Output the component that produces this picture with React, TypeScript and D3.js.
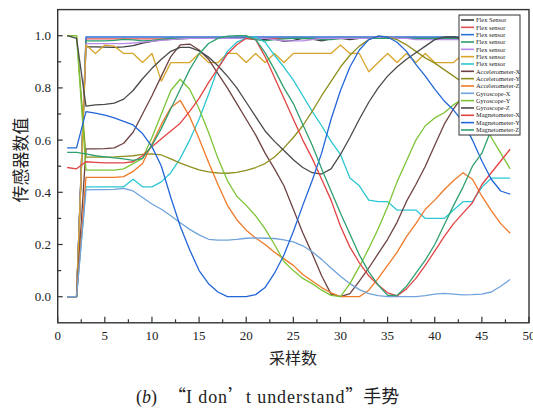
import React from 'react';
import * as d3 from 'd3';

// sample index 1..48
const samples = d3.range(1, 49);

const seriesNames = [
  'Flex Sensor', 'Flex sensor', 'Flex sensor', 'Flex sensor', 'Flex sensor', 'Flex sensor', 'Flex sensor',
  'Accelerometer-X', 'Accelerometer-Y', 'Accelerometer-Z',
  'Gyroscope-X', 'Gyroscope-Y', 'Gyroscope-Z',
  'Magnetometer-X', 'Magnetometer-Y', 'Magnetometer-Z',
];

const seriesColors = [
  '#3c3c3c', '#e05252', '#2a6fd6', '#2e9c6c', '#b98ce8', '#d8a52a', '#2cc7d2',
  '#6e4242', '#8f8f1f', '#f07826',
  '#70a3db', '#7cc436', '#4a4a4a',
  '#e24444', '#2266d8', '#30a070',
];

const flexDark = [0, 0, .957, .957, .956, .955, .957, .962, .972, .978,
  .984, .986, .988, .99, .99, .99, .99, .99, .992, .993,
  .99, .985, .987, .978, .982, .99, .987, .98, .988, .99,
  .985, .99, .99, .99, .995, .99, .99, .99, .99, .99,
  .993, .995, .99, .99, .99, .99, .99, .99];
const flexRed = [0, 0, .988, .988, .988, .988, .988, .988, .988, .988,
  .988, .99, .99, .99, .99, .99, .99, .99, .99, .99,
  .99, .99, .99, .99, .99, .99, .99, .99, .99, .99,
  .99, .99, .99, .99, .99, .99, .99, .99, .99, .99,
  .99, .99, .99, .99, .99, .99, .99, .99];
const flexBlue = [0, 0, .995, .995, .995, .995, .995, .995, .995, .995,
  .995, .995, .995, .995, .995, .995, .995, .995, .995, .995,
  .995, .995, .995, .995, .995, .995, .995, .995, .995, .995,
  .995, .995, .995, .995, .995, .995, .995, .995, .995, .995,
  .995, .995, .995, .995, .995, .995, .995, .995];
const flexGreen = [0, 0, .98, .98, .98, .982, .986, .984, .98, .982,
  .986, .99, .99, .99, .99, .99, .99, .99, .99, .99,
  .985, .98, .985, .988, .99, .99, .99, .985, .985, .99,
  .99, .99, .99, .99, .99, .99, .99, .99, .99, .99,
  .99, .99, .99, .99, .99, .99, .99, .99];
const flexViolet = [0, 0, .97, .97, .97, .97, .97, .972, .975, .978,
  .982, .985, .988, .99, .99, .99, .99, .99, .99, .99,
  .99, .99, .985, .98, .98, .98, .985, .99, .99, .99,
  .99, .99, .99, .995, .995, .99, .99, .985, .985, .985,
  .985, .985, .985, .985, .985, .985, .985, .985];
const flexGold = [0, 0, .964, .932, .964, .96, .932, .932, .897, .932,
  .826, .897, .897, .897, .932, .897, .897, .932, .932, .897,
  .932, .897, .932, .897, .932, .932, .932, .932, .932, .964,
  .932, .932, .862, .897, .932, .897, .932, .897, .932, .897,
  .897, .897, .93, .93, .93, .93, .93, .93];
const flexCyan = [0, 0, .421, .421, .421, .421, .421, .45, .421, .421,
  .44, .475, .53, .6, .68, .775, .875, .94, .975, .99,
  .995, .975, .925, .88, .83, .77, .71, .655, .595, .545,
  .455, .425, .37, .364, .364, .332, .332, .332, .3, .3,
  .3, .332, .364, .364, .42, .454, .454, .454];
const accX = [0, 0, .566, .566, .567, .57, .588, .63, .7, .77,
  .845, .92, .965, .968, .945, .91, .855, .8, .74, .68,
  .62, .55, .49, .425, .335, .245, .165, .08, .01, 0,
  .012, .06, .11, .165, .22, .285, .365, .43, .5, .58,
  .66, .72, .77, .81, .86, .9, .94, .97];
const accY = [1, 1, .535, .535, .535, .536, .538, .54, .545, .547,
  .543, .528, .512, .498, .486, .478, .474, .473, .476, .484,
  .495, .51, .535, .57, .61, .655, .71, .77, .825, .88,
  .925, .96, .985, .998, .995, .985, .965, .94, .915, .895,
  .87, .845, .82, .79, .76, .73, .7, .67];
const accZ = [0, 0, .457, .457, .457, .457, .46, .48, .51, .585,
  .66, .725, .752, .69, .605, .515, .43, .35, .295, .255,
  .225, .2, .17, .145, .12, .085, .06, .035, .015, 0,
  0, 0, .025, .07, .12, .17, .23, .28, .335, .37,
  .41, .445, .475, .45, .385, .33, .28, .243];
const gyroX = [0, 0, .409, .41, .41, .411, .415, .405, .38, .355,
  .335, .31, .283, .258, .237, .22, .217, .217, .22, .224,
  .225, .224, .223, .218, .21, .195, .172, .143, .11, .078,
  .05, .027, .012, .004, 0, 0, 0, 0, .004, .01,
  .013, .01, .007, .008, .01, .018, .04, .066];
const gyroY = [1, 1, .485, .485, .485, .485, .49, .51, .53, .61,
  .7, .79, .833, .795, .72, .63, .53, .445, .385, .35,
  .31, .26, .2, .135, .1, .07, .05, .025, .005, 0,
  .05, .115, .185, .26, .345, .44, .52, .6, .655, .685,
  .705, .735, .76, .77, .7, .61, .55, .49];
const gyroZ = [1, .99, .73, .735, .737, .742, .757, .79, .835, .875,
  .91, .94, .955, .955, .942, .918, .885, .845, .8, .745,
  .69, .635, .595, .56, .525, .495, .475, .47, .49, .545,
  .61, .68, .745, .8, .845, .88, .91, .935, .96, .985,
  .995, .995, .99, .99, .99, .99, .99, .99];
const magX = [.495, .49, .517, .515, .513, .513, .513, .517, .54, .575,
  .605, .635, .665, .71, .76, .82, .875, .93, .965, .99,
  .985, .92, .84, .76, .68, .6, .53, .45, .37, .27,
  .19, .13, .08, .045, .015, .003, .03, .07, .12, .175,
  .23, .28, .32, .36, .43, .475, .52, .565];
const magY = [.57, .57, .709, .703, .696, .685, .672, .658, .625, .575,
  .5, .38, .27, .18, .1, .05, .018, 0, 0, 0,
  .008, .035, .09, .16, .25, .35, .445, .55, .68, .79,
  .88, .945, .985, .998, .995, .975, .94, .89, .845, .795,
  .75, .715, .67, .6, .52, .45, .405, .393];
const magZ = [.553, .553, .547, .54, .536, .532, .528, .522, .53, .58,
  .645, .72, .795, .87, .93, .97, .99, .998, 1, 1,
  .985, .935, .87, .8, .74, .66, .58, .49, .405, .32,
  .24, .16, .095, .045, .005, .005, .04, .09, .14, .2,
  .275, .35, .42, .5, .55, .64, .72, .8];

const seriesValues = [flexDark, flexRed, flexBlue, flexGreen, flexViolet, flexGold, flexCyan,
  accX, accY, accZ, gyroX, gyroY, gyroZ, magX, magY, magZ];

const xTicks = d3.range(0, 51, 5);
const xMinor = d3.range(2.5, 50, 5);
const yTicks = [0, 0.2, 0.4, 0.6, 0.8, 1.0];
const yMinor = [0.1, 0.3, 0.5, 0.7, 0.9];

const W = 533;
const H = 409;
const left = 57.7, right = 529, top = 9.6, bottom = 322.8;

export default function App() {
  const x = d3.scaleLinear().domain([0, 50]).range([left, right]);
  const y = d3.scaleLinear().domain([-0.1, 1.1]).range([bottom, top]);
  const line = d3.line<number>()
    .x((_, i) => x(samples[i]))
    .y(d => y(d));

  const serif = '"Liberation Serif", "DejaVu Serif", serif';
  const cjk = '"Noto Sans CJK SC", sans-serif';
  const legendX = 459, legendY = 15, legendW = 61, legendH = 120;
  const rowH = 7.33;

  return (
    <svg width={W} height={H} style={{ position: 'absolute', left: 0, top: 0, background: '#fff' }}>
      <rect x={0} y={0} width={W} height={H} fill="#fff" />
      {/* series */}
      <g fill="none" strokeWidth={1.3} strokeLinejoin="round">
        {seriesValues.map((vals, k) => (
          <path key={k} d={line(vals) || ''} stroke={seriesColors[k]} />
        ))}
      </g>

      {/* frame */}
      <rect x={left} y={top} width={right - left} height={bottom - top}
        fill="none" stroke="#333" strokeWidth={1.4} />

      {/* x ticks */}
      {xTicks.map(t => (
        <g key={'x' + t}>
          <line x1={x(t)} x2={x(t)} y1={bottom} y2={bottom - 6} stroke="#333" strokeWidth={1.2} />
          <text x={x(t)} y={340} textAnchor="middle" fontFamily={serif} fontSize={13} fill="#222">{t}</text>
        </g>
      ))}
      {xMinor.map(t => (
        <line key={'xm' + t} x1={x(t)} x2={x(t)} y1={bottom} y2={bottom - 3.5} stroke="#333" strokeWidth={1.2} />
      ))}

      {/* y ticks */}
      {yTicks.map(t => (
        <g key={'y' + t}>
          <line x1={left} x2={left + 5} y1={y(t)} y2={y(t)} stroke="#333" strokeWidth={1.2} />
          <text x={51} y={y(t) + 4.5} textAnchor="end" fontFamily={serif} fontSize={13} fill="#222">{t.toFixed(1)}</text>
        </g>
      ))}
      {yMinor.map(t => (
        <line key={'ym' + t} x1={left} x2={left + 3.5} y1={y(t)} y2={y(t)} stroke="#333" strokeWidth={1.2} />
      ))}

      {/* axis titles */}
      <text x={293} y={364} textAnchor="middle" fontFamily={cjk} fontSize={16} fill="#222">采样数</text>
      <text transform="translate(27,160) rotate(-90)" textAnchor="middle" fontFamily={cjk} fontSize={17} fill="#222">传感器数值</text>

      {/* caption */}
      <text x={136} y={403} fontFamily={serif} fontSize={18} fill="#222">
        <tspan>(</tspan><tspan fontStyle="italic">b</tspan><tspan>)</tspan>
        <tspan x={168} fontFamily={cjk}>“</tspan><tspan letterSpacing={0.9}>I don</tspan><tspan fontFamily={cjk}>’</tspan><tspan letterSpacing={0.9}>t understand</tspan><tspan fontFamily={cjk}>”手势</tspan>
      </text>

      {/* legend */}
      <rect x={legendX} y={legendY} width={legendW} height={legendH} fill="#fff" stroke="#333" strokeWidth={1} />
      {seriesNames.map((name, k) => {
        const yy = legendY + 5 + k * rowH;
        return (
          <g key={'lg' + k}>
            <line x1={legendX + 2} x2={legendX + 15} y1={yy} y2={yy} stroke={seriesColors[k]} strokeWidth={1.6} />
            <text x={legendX + 17} y={yy + 2.2} fontFamily={serif} fontSize={6.4} fill="#222">{name}</text>
          </g>
        );
      })}
    </svg>
  );
}
